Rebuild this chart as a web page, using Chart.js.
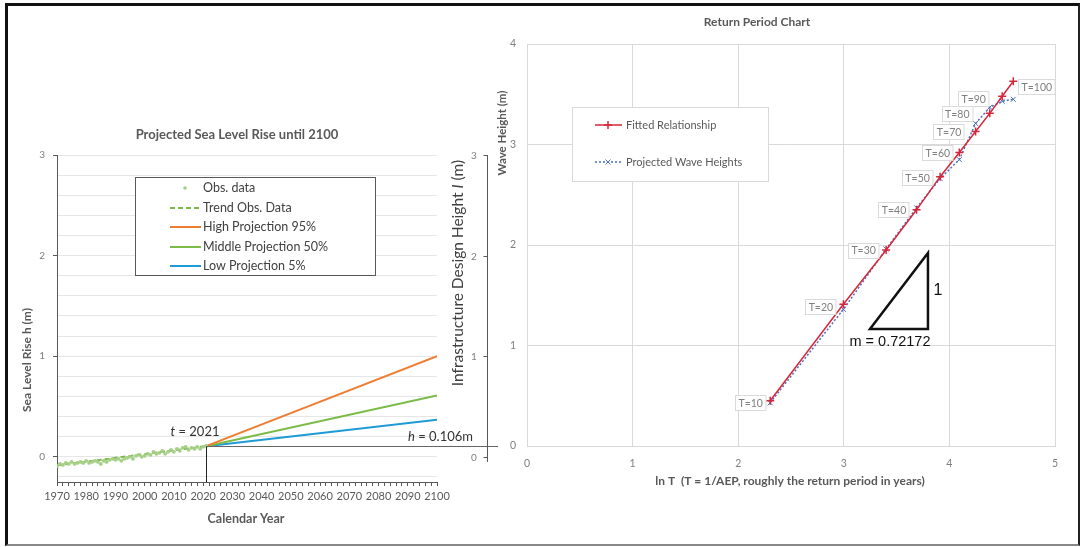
<!DOCTYPE html>
<html><head><meta charset="utf-8">
<script src="https://cdn.jsdelivr.net/npm/chart.js@4.4.1/dist/chart.umd.min.js"></script>
<style>
html,body{margin:0;padding:0;background:#fff;}
#wrap{position:relative;width:1084px;height:547px;overflow:hidden;background:#fff;}
canvas{position:absolute;left:0;top:0;}
#frame{position:absolute;left:5px;top:3px;width:1070px;height:538px;border-left:3px solid #111;border-top:3px solid #111;border-right:2px solid #222;border-bottom:2px solid #888;pointer-events:none;}
</style></head>
<body><div id="wrap">
<canvas id="c1" width="1084" height="547" style="width:1084px;height:547px"></canvas>
<canvas id="c2" width="1084" height="547" style="width:1084px;height:547px"></canvas>
<div id="frame"></div></div>
<script>
// ---------- Left chart data ----------
const obsYears = [1970,1971,1972,1973,1974,1975,1976,1977,1978,1979,1980,1981,1982,1983,1984,1985,1986,1987,1988,1989,1990,1991,1992,1993,1994,1995,1996,1997,1998,1999,2000,2001,2002,2003,2004,2005,2006,2007,2008,2009,2010,2011,2012,2013,2014,2015,2016,2017,2018,2019,2020,2021];
const obsLevels = [-0.09,-0.07,-0.08,-0.06,-0.07,-0.05,-0.07,-0.06,-0.05,-0.06,-0.04,-0.06,-0.05,-0.04,-0.05,-0.07,-0.04,-0.05,-0.03,-0.02,-0.03,-0.02,-0.04,-0.02,-0.01,0.00,-0.02,0.01,0.02,0.00,0.01,0.03,0.02,0.05,0.03,0.04,0.06,0.03,0.05,0.07,0.05,0.08,0.06,0.09,0.10,0.07,0.09,0.08,0.10,0.08,0.10,0.11];
const trendYears = [1970, 2021];
const trendLevels = [-0.085, 0.106];
const projYears = [2021, 2100];
const highProjection = [0.106, 1.00];
const middleProjection = [0.106, 0.61];
const lowProjection = [0.106, 0.37];
const yearTickLabels = [1970,1980,1990,2000,2010,2020,2030,2040,2050,2060,2070,2080,2090,2100];
const slrGridLevels = [-0.2,0,0.2,0.4,0.6,0.8,1,1.2,1.4,1.6,1.8,2,2.2,2.4,2.6,2.8,3];
const slrAxisLabels = [0,1,2,3];
const designHeightTicks = [0,1,2,3];
const tYear = 2021, hLevel = 0.106;
const leftLegendLabels = ['Obs. data','Trend Obs. Data','High Projection 95%','Middle Projection 50%','Low Projection 5%'];

// ---------- Right chart data ----------
const returnPeriodLabels = ['T=10','T=20','T=30','T=40','T=50','T=60','T=70','T=80','T=90','T=100'];
const lnT = [2.303,2.996,3.401,3.689,3.912,4.094,4.248,4.382,4.500,4.605];
const fittedHeights = [0.45,1.41,1.95,2.35,2.68,2.92,3.13,3.31,3.48,3.63];
const projectedHeights = [0.43,1.36,1.96,2.37,2.66,2.85,3.21,3.37,3.43,3.45];
const triangleLnT = [3.248, 3.797];
const triangleHeights = [1.165, 1.92];
const slopeLabel = 'm = 0.72172';
const rightLegendLabels = ['Fitted Relationship','Projected Wave Heights'];

const F = 'Lato, "Open Sans", sans-serif';
const pts = (xs, ys) => xs.map((v,i)=>({x:v, y:ys[i]}));

function rotText(ctx, parts, cx, cy){
  ctx.save();
  ctx.translate(cx, cy); ctx.rotate(-Math.PI/2);
  let total = 0;
  parts.forEach(p=>{ctx.font=p.font; total += ctx.measureText(p.text).width;});
  let x = -total/2;
  ctx.textBaseline='middle'; ctx.textAlign='left';
  parts.forEach(p=>{ctx.font=p.font; ctx.fillText(p.text, x, 0); x += ctx.measureText(p.text).width;});
  ctx.restore();
}

const leftDecor = {
  id:'leftDecor',
  afterDatasetsDraw(chart){
    const {ctx, scales:{x,y}, chartArea} = chart;
    const px = Math.round(x.getPixelForValue(tYear))+0.5;
    const py = Math.round(y.getPixelForValue(hLevel))+0.5;
    ctx.save();
    ctx.lineWidth = 1;
    ctx.strokeStyle = '#666';
    ctx.beginPath(); ctx.moveTo(px, py); ctx.lineTo(498, py); ctx.stroke();
    ctx.strokeStyle = '#222';
    ctx.beginPath(); ctx.moveTo(px, py); ctx.lineTo(px, chartArea.bottom); ctx.stroke();
    ctx.fillStyle = '#333'; ctx.textBaseline='middle';
    ctx.font = 'italic 13px '+F; ctx.textAlign='left';
    const tw = ctx.measureText('t').width;
    ctx.font = '13px '+F;
    const rw = ctx.measureText(' = 2021').width;
    let sx = 195 - (tw+rw)/2;
    ctx.font = 'italic 13px '+F; ctx.fillText('t', sx, 432);
    ctx.font = '13px '+F; ctx.fillText(' = 2021', sx+tw, 432);
    ctx.font = '13px '+F;
    const hw = ctx.measureText(' = 0.106m').width;
    ctx.fillText(' = 0.106m', 473-hw, 437);
    ctx.font = 'italic 13px '+F;
    const hiw = ctx.measureText('h').width;
    ctx.fillText('h', 473-hw-hiw, 437);
    // middle axis (Infrastructure Design Height)
    const ax = 487.5;
    ctx.strokeStyle = '#595959'; ctx.lineWidth = 1;
    ctx.beginPath(); ctx.moveTo(ax, y.getPixelForValue(3)); ctx.lineTo(ax, y.getPixelForValue(-0.05)); ctx.stroke();
    ctx.fillStyle = '#7F7F7F'; ctx.font = '10px '+F; ctx.textAlign='center';
    designHeightTicks.forEach(v=>{
      const ty = Math.round(y.getPixelForValue(v))+0.5;
      ctx.beginPath(); ctx.moveTo(ax-4, ty); ctx.lineTo(ax, ty); ctx.stroke();
      ctx.fillText(String(v), 474, ty);
    });
    ctx.fillStyle = '#404040';
    rotText(ctx, [{text:'Infrastructure Design Height ', font:'15.5px '+F},{text:'I', font:'italic 15.5px '+F},{text:' (m)', font:'15.5px '+F}], 458, 273);
    ctx.fillStyle = '#595959'; ctx.textAlign='center';
    ctx.font = 'bold 13px '+F; ctx.fillText('Projected Sea Level Rise until 2100', 237, 135);
    ctx.font = 'bold 12.5px '+F; ctx.fillText('Calendar Year', 246, 519);
    rotText(ctx, [{text:'Sea Level Rise h (m)', font:'bold 12px '+F}], 27, 360);
    // legend
    ctx.fillStyle = '#fff'; ctx.fillRect(135.5, 177.5, 240, 98);
    ctx.strokeStyle = '#595959'; ctx.lineWidth = 1; ctx.strokeRect(135.5, 177.5, 240, 98);
    const ly = [188, 208, 227, 247, 266];
    chart.data.datasets.forEach((ds, i)=>{
      const yy = ly[i];
      ctx.save();
      if (i === 0) {
        ctx.fillStyle = ds.backgroundColor;
        ctx.beginPath(); ctx.arc(185, yy, 1.8, 0, Math.PI*2); ctx.fill();
      } else {
        ctx.strokeStyle = ds.borderColor; ctx.lineWidth = ds.borderWidth;
        ctx.setLineDash(ds.borderDash || []);
        ctx.beginPath(); ctx.moveTo(170, yy); ctx.lineTo(201, yy); ctx.stroke();
      }
      ctx.restore();
      ctx.fillStyle = '#404040'; ctx.font = '12.5px '+F; ctx.textAlign='left'; ctx.textBaseline='middle';
      ctx.fillText(leftLegendLabels[i], 203, yy);
    });
    ctx.restore();
  }
};

new Chart(document.getElementById('c1'), {
  type:'scatter',
  data:{datasets:[
    {label:leftLegendLabels[0], data:pts(obsYears, obsLevels), backgroundColor:'#A5CF85', borderColor:'#A5CF85', pointRadius:1.9, pointBorderWidth:0, showLine:false},
    {label:leftLegendLabels[1], data:pts(trendYears, trendLevels), borderColor:'#7DB84E', backgroundColor:'#7DB84E', borderWidth:2, borderDash:[5,3], pointRadius:0, showLine:true},
    {label:leftLegendLabels[2], data:pts(projYears, highProjection), borderColor:'#ED7D31', backgroundColor:'#ED7D31', borderWidth:2, pointRadius:0, showLine:true},
    {label:leftLegendLabels[3], data:pts(projYears, middleProjection), borderColor:'#7CBB48', backgroundColor:'#7CBB48', borderWidth:2, pointRadius:0, showLine:true},
    {label:leftLegendLabels[4], data:pts(projYears, lowProjection), borderColor:'#1E9AD6', backgroundColor:'#1E9AD6', borderWidth:2, pointRadius:0, showLine:true}
  ]},
  options:{
    responsive:false, animation:false, devicePixelRatio:1,
    layout:{padding:{left:0, top:155, right:647, bottom:0}},
    plugins:{legend:{display:false}, tooltip:{enabled:false}},
    scales:{
      x:{type:'linear', min:1970, max:2100,
        ticks:{stepSize:2, autoSkip:false, maxRotation:0, padding:4, color:'#595959', font:{family:F, size:11},
          callback:v=> yearTickLabels.includes(Math.round(v)) ? String(Math.round(v)) : ''},
        grid:{drawOnChartArea:false, drawTicks:true, tickLength:4, tickColor:'#595959'},
        border:{color:'#595959', width:1},
        afterFit:s=>{s.height=65;}
      },
      y:{min:-0.25, max:3,
        afterBuildTicks:s=>{s.ticks = slrGridLevels.map(v=>({value:v}));},
        ticks:{autoSkip:false, padding:8, color:'#7F7F7F', font:{family:F, size:10},
          callback:v=> slrAxisLabels.includes(v) ? String(v) : ''},
        grid:{color:'#E6E6E6', tickLength:4, tickColor:c=> slrAxisLabels.includes(c.tick && c.tick.value) ? '#595959' : 'rgba(0,0,0,0)'},
        border:{color:'#595959', width:1},
        afterFit:s=>{s.width=57;}
      }
    }
  },
  plugins:[leftDecor]
});

const rightDecor = {
  id:'rightDecor',
  afterDatasetsDraw(chart){
    const {ctx, scales:{x,y}} = chart;
    ctx.save();
    const x1 = x.getPixelForValue(triangleLnT[0]), x2 = x.getPixelForValue(triangleLnT[1]);
    const y1 = y.getPixelForValue(triangleHeights[0]), y2 = y.getPixelForValue(triangleHeights[1]);
    ctx.strokeStyle = '#111'; ctx.lineWidth = 2.5; ctx.lineJoin='miter';
    ctx.beginPath(); ctx.moveTo(x1, y1); ctx.lineTo(x2, y1); ctx.lineTo(x2, y2); ctx.closePath(); ctx.stroke();
    ctx.fillStyle = '#111'; ctx.textBaseline='middle'; ctx.textAlign='center';
    ctx.font = '16px "Liberation Sans", Arial, sans-serif';
    ctx.fillText('1', x2+10, (y1+y2)/2);
    ctx.font = '14.5px "Liberation Sans Narrow", "Liberation Sans", Arial, sans-serif';
    ctx.fillText(slopeLabel, (x1+x2)/2-9, y1+13);
    const offsets = [[-20,2],[-23,2],[-23,0],[-23,0],[-23,1],[-22,0],[-27,0],[-33,0],[-29,2],[23,5]];
    const meta = chart.getDatasetMeta(0);
    ctx.font = '10.5px '+F;
    meta.data.forEach((el, i)=>{
      const cx = el.x + offsets[i][0], cy = el.y + offsets[i][1];
      const w = ctx.measureText(returnPeriodLabels[i]).width + 6, h = 15;
      ctx.fillStyle = '#fff';
      ctx.fillRect(Math.round(cx-w/2)+0.5, Math.round(cy-h/2)+0.5, w, h);
      ctx.strokeStyle = '#DADADA'; ctx.lineWidth = 1;
      ctx.strokeRect(Math.round(cx-w/2)+0.5, Math.round(cy-h/2)+0.5, w, h);
      ctx.fillStyle = '#7F7F7F';
      ctx.fillText(returnPeriodLabels[i], cx+0.5, cy+1);
    });
    ctx.fillStyle = '#595959';
    ctx.font = 'bold 12px '+F; ctx.fillText('Return Period Chart', 757, 22);
    ctx.font = 'bold 12px '+F; ctx.fillText('ln T  (T = 1/AEP, roughly the return period in years)', 790, 481);
    rotText(ctx, [{text:'Wave Height (m)', font:'bold 11.5px '+F}], 502, 133);
    ctx.fillStyle = '#fff'; ctx.fillRect(572.5, 107.5, 196, 74);
    ctx.strokeStyle = '#D9D9D9'; ctx.lineWidth = 1; ctx.strokeRect(572.5, 107.5, 196, 74);
    const ly = [125, 162];
    chart.data.datasets.forEach((ds, i)=>{
      const yy = ly[i];
      ctx.save();
      ctx.strokeStyle = ds.borderColor; ctx.lineWidth = ds.borderWidth;
      ctx.setLineDash(ds.borderDash || []);
      ctx.beginPath(); ctx.moveTo(595, yy); ctx.lineTo(622, yy); ctx.stroke();
      ctx.setLineDash([]);
      ctx.lineWidth = ds.pointBorderWidth || 1;
      Chart.helpers.drawPoint(ctx, {pointStyle:ds.pointStyle, radius:ds.pointRadius, borderWidth:ds.pointBorderWidth||1, rotation:0}, 608, yy);
      ctx.restore();
      ctx.fillStyle = '#595959'; ctx.font = '11px '+F; ctx.textAlign='left'; ctx.textBaseline='middle';
      ctx.fillText(rightLegendLabels[i], 626, yy);
    });
    ctx.restore();
  }
};

new Chart(document.getElementById('c2'), {
  type:'scatter',
  data:{datasets:[
    {label:rightLegendLabels[0], data:pts(lnT, fittedHeights), borderColor:'#D7263A', backgroundColor:'#D7263A', borderWidth:1.5, pointStyle:'cross', pointRadius:4, pointBorderWidth:1.5, showLine:true},
    {label:rightLegendLabels[1], data:pts(lnT, projectedHeights), borderColor:'#4A6FBF', backgroundColor:'#4A6FBF', borderWidth:1.5, borderDash:[2,2], pointStyle:'crossRot', pointRadius:3.5, pointBorderWidth:1, showLine:true}
  ]},
  options:{
    responsive:false, animation:false, devicePixelRatio:1,
    layout:{padding:{left:480, top:44, right:29, bottom:40}},
    plugins:{legend:{display:false}, tooltip:{enabled:false}},
    scales:{
      x:{type:'linear', min:0, max:5,
        ticks:{stepSize:1, padding:11, color:'#7F7F7F', font:{family:F, size:10.5}},
        grid:{color:'#D9D9D9', drawTicks:false},
        border:{color:'#D9D9D9'},
        afterFit:s=>{s.height=61;}
      },
      y:{min:0, max:4,
        ticks:{stepSize:1, padding:11, color:'#7F7F7F', font:{family:F, size:10.5}},
        grid:{color:'#D9D9D9', drawTicks:false},
        border:{color:'#D9D9D9'},
        afterFit:s=>{s.width=47;}
      }
    }
  },
  plugins:[rightDecor]
});
</script>
</body></html>
